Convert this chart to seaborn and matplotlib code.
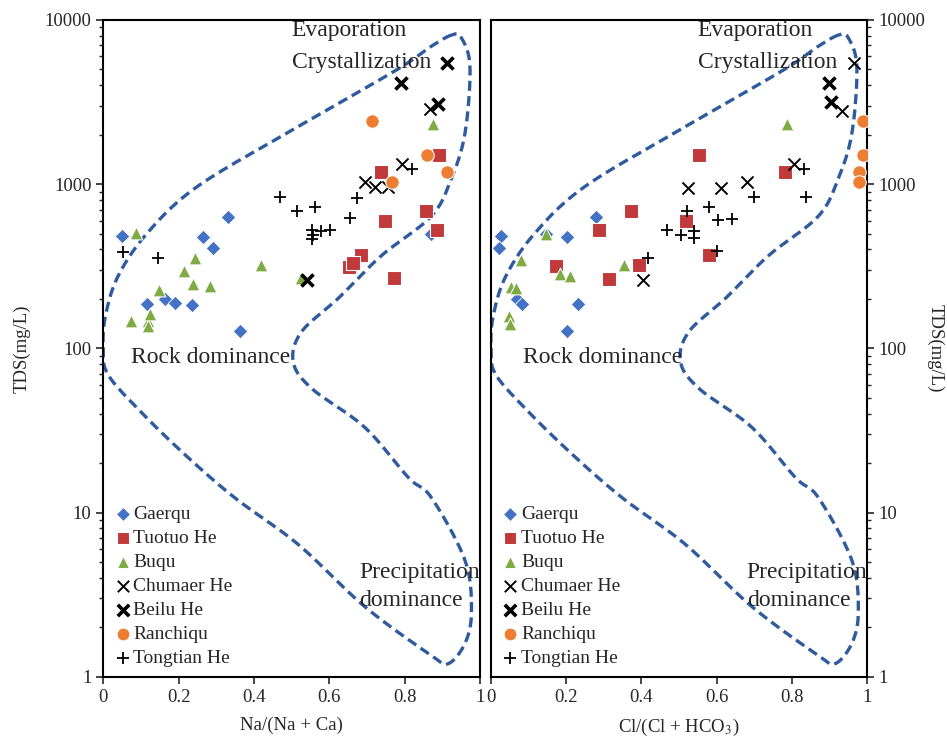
import numpy as np
import pandas as pd
import matplotlib
matplotlib.use("Agg")
import matplotlib.pyplot as plt
import seaborn as sns

# Gibbs diagram data

# left panel: Na/(Na+Ca) vs TDS
gaerqu_na = [0.05, 0.33, 0.265, 0.29, 0.117, 0.164, 0.19, 0.236, 0.363, 0.87]
gaerqu_tds_na = [480, 630, 478, 410, 185, 199, 188, 183, 128, 495]
tuotuo_na = [0.89, 0.737, 0.747, 0.857, 0.886, 0.685, 0.652, 0.664, 0.772]
tuotuo_tds_na = [1500, 1190, 600, 690, 525, 370, 315, 330, 268]
buqu_na = [0.086, 0.243, 0.215, 0.237, 0.283, 0.149, 0.418, 0.075, 0.119, 0.118, 0.124, 0.526, 0.875]
buqu_tds_na = [505, 355, 295, 245, 240, 228, 322, 146, 146, 137, 161, 268, 2330]
chumaer_na = [0.694, 0.72, 0.756, 0.793, 0.866]
chumaer_tds_na = [1035, 965, 965, 1335, 2870]
beilu_na = [0.911, 0.791, 0.889, 0.54]
beilu_tds_na = [5500, 4150, 3080, 262]
ranchiqu_na = [0.714, 0.858, 0.911, 0.765]
ranchiqu_tds_na = [2440, 1500, 1190, 1035]
tongtian_na = [0.053, 0.146, 0.469, 0.515, 0.563, 0.553, 0.556, 0.577, 0.601, 0.654, 0.672, 0.818, 0.555]
tongtian_tds_na = [388, 355, 830, 690, 730, 527, 492, 515, 527, 620, 820, 1245, 465]

# right panel: Cl/(Cl+HCO3) vs TDS
gaerqu_cl = [0.026, 0.022, 0.279, 0.203, 0.068, 0.083, 0.232, 0.203, 0.145]
gaerqu_tds_cl = [480, 408, 635, 477, 199, 185, 185, 128, 500]
tuotuo_cl = [0.554, 0.782, 0.373, 0.288, 0.519, 0.173, 0.393, 0.314, 0.581]
tuotuo_tds_cl = [1500, 1190, 690, 523, 593, 316, 323, 265, 372]
buqu_cl = [0.788, 0.145, 0.081, 0.184, 0.211, 0.355, 0.053, 0.066, 0.048, 0.051]
buqu_tds_cl = [2330, 495, 347, 282, 277, 323, 237, 232, 157, 141]
chumaer_cl = [0.525, 0.612, 0.68, 0.807, 0.404, 0.934, 0.965]
chumaer_tds_cl = [945, 945, 1035, 1335, 262, 2800, 5450]
beilu_cl = [0.899, 0.904]
beilu_tds_cl = [4150, 3150]
ranchiqu_cl = [0.989, 0.989, 0.978, 0.98]
ranchiqu_tds_cl = [2420, 1500, 1190, 1035]
tongtian_cl = [0.833, 0.838, 0.7, 0.579, 0.522, 0.603, 0.642, 0.469, 0.504, 0.539, 0.539, 0.417, 0.601]
tongtian_tds_cl = [1245, 830, 830, 730, 690, 605, 615, 527, 492, 515, 472, 355, 390]

# Gibbs boundary (same for both panels)
env_x = [0.925, 0.87, 0.78, 0.517, 0.252, 0.119, 0.04, 0.006, 0.0, 0.013, 0.10, 0.217,
         0.349, 0.517, 0.695, 0.87, 0.915, 0.96, 0.977, 0.96, 0.871, 0.81, 0.694, 0.553,
         0.504, 0.526, 0.623, 0.737, 0.87, 0.923, 0.96, 0.973, 0.95]
env_tds = [8100, 6900, 4990, 2240, 975, 510, 277, 158, 100, 69, 41, 22.5,
           12.3, 6.4, 2.66, 1.35, 1.2, 1.6, 2.5, 5.1, 12.3, 16.3, 33, 57,
           83, 126, 201, 365, 636, 1070, 2050, 5200, 7800]

names = ["Gaerqu", "Tuotuo He", "Buqu", "Chumaer He", "Beilu He", "Ranchiqu", "Tongtian He"]
left_x = [gaerqu_na, tuotuo_na, buqu_na, chumaer_na, beilu_na, ranchiqu_na, tongtian_na]
left_y = [gaerqu_tds_na, tuotuo_tds_na, buqu_tds_na, chumaer_tds_na, beilu_tds_na, ranchiqu_tds_na, tongtian_tds_na]
right_x = [gaerqu_cl, tuotuo_cl, buqu_cl, chumaer_cl, beilu_cl, ranchiqu_cl, tongtian_cl]
right_y = [gaerqu_tds_cl, tuotuo_tds_cl, buqu_tds_cl, chumaer_tds_cl, beilu_tds_cl, ranchiqu_tds_cl, tongtian_tds_cl]

styles = {
    "Gaerqu": dict(marker="D", color="#4472C4", s=55),
    "Tuotuo He": dict(marker="s", color="#C0393B", s=95),
    "Buqu": dict(marker="^", color="#7FAA44", s=85),
    "Chumaer He": dict(marker="x", color="black", s=75, linewidth=1.4),
    "Beilu He": dict(marker="x", color="black", s=75, linewidth=2.6),
    "Ranchiqu": dict(marker="o", color="#ED7D31", s=95),
    "Tongtian He": dict(marker="+", color="black", s=85, linewidth=1.3),
}


def smooth_closed(xs, ys, n=24):
    # Catmull-Rom spline through the boundary points (x linear, y log)
    P = np.column_stack([xs, np.log10(ys)])
    m = len(P)
    t = np.linspace(0, 1, n, endpoint=False)[:, None]
    segs = []
    for i in range(m):
        p0, p1, p2, p3 = P[i - 1], P[i], P[(i + 1) % m], P[(i + 2) % m]
        seg = 0.5 * (2 * p1 + (-p0 + p2) * t + (2 * p0 - 5 * p1 + 4 * p2 - p3) * t ** 2
                     + (-p0 + 3 * p1 - 3 * p2 + p3) * t ** 3)
        segs.append(seg)
    out = np.vstack(segs + [segs[0][:1]])
    return out[:, 0], 10 ** out[:, 1]


sns.set_style("ticks")
plt.rcParams["font.family"] = ["Liberation Serif", "DejaVu Serif"]
plt.rcParams["mathtext.fontset"] = "stix"

fig = plt.figure(figsize=(9.47, 7.38), dpi=100)
ax1 = fig.add_axes([0.109, 0.083, 0.398, 0.890])
ax2 = fig.add_axes([0.5185, 0.083, 0.397, 0.890])

bx, by = smooth_closed(env_x, env_tds)

for ax, xs, ys in [(ax1, left_x, left_y), (ax2, right_x, right_y)]:
    ax.plot(bx, by, color="#2F5B9E", lw=2.4, dashes=(3, 1.6), zorder=1)
    for name, x, y in zip(names, xs, ys):
        df = pd.DataFrame({"x": x, "tds": y})
        st = dict(styles[name])
        sns.scatterplot(data=df, x="x", y="tds", ax=ax, label=name, zorder=3, **st)
    ax.set_yscale("log")
    ax.set_xlim(0, 1)
    ax.set_ylim(1, 10000)
    ax.set_xticks([0, 0.2, 0.4, 0.6, 0.8, 1])
    ax.set_xticklabels(["0", "0.2", "0.4", "0.6", "0.8", "1"])
    ax.set_yticks([1, 10, 100, 1000, 10000])
    ax.set_yticklabels(["1", "10", "100", "1000", "10000"])
    for sp in ax.spines.values():
        sp.set_visible(True)
        sp.set_linewidth(1.5)
        sp.set_color("black")
    ax.tick_params(axis="both", which="major", labelsize=13.5, length=5, width=1.2, direction="out")
    ax.tick_params(axis="y", which="minor", length=3, width=1, direction="out")
    ax.legend(loc="lower left", frameon=False, fontsize=14, handletextpad=0.05,
              labelspacing=0.33, borderaxespad=0.1, handlelength=1.0, markerscale=0.95)
    tx = 0.50 if ax is ax1 else 0.55
    ax.text(tx, 8600, "Evaporation", fontsize=17, va="center", ha="left")
    ax.text(tx, 5500, "Crystallization", fontsize=17, va="center", ha="left")
    ax.text(0.074 if ax is ax1 else 0.084, 88, "Rock dominance", fontsize=17, va="center", ha="left")
    ax.text(0.68, 4.3, "Precipitation", fontsize=17, va="center", ha="left")
    ax.text(0.68, 2.9, "dominance", fontsize=17, va="center", ha="left")

ax1.set_xlabel("Na/(Na + Ca)", fontsize=13.5, labelpad=8)
ax1.set_ylabel("TDS(mg/L)", fontsize=13.5, labelpad=10)
ax2.set_xlabel("Cl/(Cl + HCO$_3$)", fontsize=13.5, labelpad=8)
ax2.yaxis.tick_right()
ax2.yaxis.set_label_position("right")
ax2.set_ylabel("TDS(mg/L)", fontsize=13.5, rotation=-90, labelpad=13)
ax1.tick_params(axis="y", which="both", right=False)
ax2.tick_params(axis="y", which="both", left=False)

fig.savefig("out.png", dpi=100)
